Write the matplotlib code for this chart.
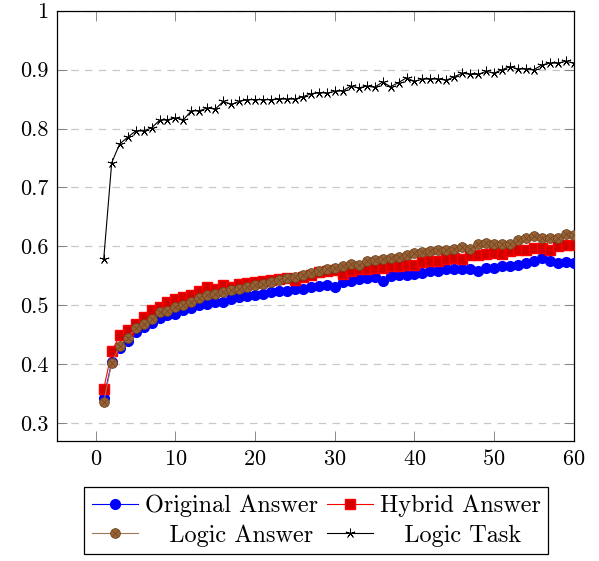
import matplotlib
matplotlib.use("Agg")
import matplotlib.pyplot as plt
from matplotlib.lines import Line2D

plt.rcParams["font.family"] = ["cmr10", "DejaVu Serif"]
plt.rcParams["axes.formatter.use_mathtext"] = True
plt.rcParams["mathtext.fontset"] = "cm"

steps = list(range(1, 61))

original_answer = [
    0.343, 0.404, 0.428, 0.440, 0.455, 0.463, 0.470, 0.478, 0.483, 0.486,
    0.492, 0.495, 0.500, 0.503, 0.505, 0.506, 0.510, 0.514, 0.516, 0.518,
    0.520, 0.522, 0.524, 0.525, 0.527, 0.528, 0.531, 0.533, 0.535, 0.531,
    0.539, 0.542, 0.544, 0.546, 0.548, 0.542, 0.550, 0.552, 0.552, 0.554,
    0.555, 0.558, 0.559, 0.561, 0.561, 0.561, 0.561, 0.559, 0.563, 0.564,
    0.566, 0.566, 0.569, 0.572, 0.576, 0.580, 0.576, 0.572, 0.573, 0.572,
]
hybrid_answer = [
    0.358, 0.422, 0.449, 0.459, 0.469, 0.480, 0.492, 0.498, 0.505, 0.510,
    0.515, 0.518, 0.524, 0.531, 0.528, 0.534, 0.532, 0.536, 0.538, 0.540,
    0.541, 0.543, 0.545, 0.546, 0.543, 0.548, 0.551, 0.556, 0.558, 0.560,
    0.554, 0.559, 0.561, 0.561, 0.563, 0.563, 0.566, 0.566, 0.569, 0.569,
    0.574, 0.576, 0.576, 0.578, 0.580, 0.579, 0.586, 0.586, 0.588, 0.589,
    0.588, 0.592, 0.594, 0.594, 0.597, 0.597, 0.594, 0.601, 0.603, 0.603,
]
logic_answer = [
    0.336, 0.403, 0.431, 0.445, 0.461, 0.469, 0.477, 0.488, 0.490, 0.497,
    0.501, 0.506, 0.513, 0.518, 0.520, 0.523, 0.526, 0.528, 0.532, 0.534,
    0.537, 0.540, 0.543, 0.546, 0.548, 0.552, 0.555, 0.558, 0.561, 0.563,
    0.566, 0.571, 0.569, 0.575, 0.577, 0.579, 0.580, 0.582, 0.586, 0.589,
    0.590, 0.593, 0.594, 0.594, 0.596, 0.599, 0.596, 0.604, 0.606, 0.604,
    0.604, 0.604, 0.611, 0.615, 0.617, 0.615, 0.615, 0.615, 0.621, 0.620,
]
logic_task = [
    0.579, 0.742, 0.774, 0.785, 0.796, 0.796, 0.801, 0.814, 0.815, 0.818,
    0.815, 0.830, 0.830, 0.835, 0.833, 0.846, 0.841, 0.846, 0.849, 0.849,
    0.849, 0.849, 0.850, 0.850, 0.850, 0.854, 0.859, 0.861, 0.860, 0.863,
    0.864, 0.872, 0.869, 0.872, 0.870, 0.879, 0.871, 0.878, 0.886, 0.880,
    0.884, 0.884, 0.884, 0.882, 0.888, 0.894, 0.892, 0.892, 0.897, 0.894,
    0.900, 0.905, 0.901, 0.901, 0.900, 0.908, 0.911, 0.911, 0.914, 0.911,
]

BROWN_LINE = "#a07a55"
BROWN_FILL = "#9b6233"
BROWN_EDGE = "#6b4423"

fig = plt.figure(figsize=(5.99, 5.61), dpi=100)
ax = fig.add_axes([0.0947, 0.214, 0.8633, 0.767])

ax.plot(steps, original_answer, color="blue", lw=0.8, marker="o", ms=7,
        mfc="blue", mec="blue", zorder=3)
ax.plot(steps, hybrid_answer, color="red", lw=0.8, marker="s", ms=6.5,
        mfc="#d40000", mec="red", zorder=3)
ax.plot(steps, logic_answer, color=BROWN_LINE, lw=0.8, marker="o", ms=7,
        mfc=BROWN_FILL, mec=BROWN_EDGE, mew=0.6, zorder=3)
ax.plot(steps, logic_answer, ls="none", marker="x", ms=4.6,
        mec=BROWN_EDGE, mew=0.5, zorder=3)
ax.plot(steps, logic_task, color="black", lw=0.8, marker=(5, 2, 0), ms=7,
        mec="black", mew=0.6, zorder=4)

ax.set_xlim(-4.9, 60)
ax.set_ylim(0.27, 1.0)
ax.set_xticks(range(0, 61, 10))
ax.set_yticks([0.3, 0.4, 0.5, 0.6, 0.7, 0.8, 0.9, 1.0])
ax.set_yticklabels(["0.3", "0.4", "0.5", "0.6", "0.7", "0.8", "0.9", "1"])
ax.tick_params(direction="in", length=7, width=0.6, color="#777777",
               top=True, right=True, labelsize=16, pad=6)
ax.grid(axis="y", ls=(0, (6, 5)), color="#c8c8c8", lw=0.9, zorder=0)
for sp in ax.spines.values():
    sp.set_linewidth(0.9)

h_orig = Line2D([], [], color="blue", lw=0.8, marker="o", ms=7, mfc="blue", mec="blue")
h_hyb = Line2D([], [], color="red", lw=0.8, marker="s", ms=6.5, mfc="#d40000", mec="red")
h_log = Line2D([], [], color=BROWN_LINE, lw=0.8, marker="o", ms=7,
               mfc=BROWN_FILL, mec=BROWN_EDGE, mew=0.6)
h_logx = Line2D([], [], ls="none", marker="x", ms=4.6, mec=BROWN_EDGE, mew=0.5)
h_task = Line2D([], [], color="black", lw=0.8, marker=(5, 2, 0), ms=7, mew=0.6)

leg = fig.legend([h_orig, (h_log, h_logx), h_hyb, h_task],
                 ["Original Answer", "   Logic Answer", "Hybrid Answer", "   Logic Task"],
                 loc="upper center", bbox_to_anchor=(0.528, 0.153), ncol=2,
                 fontsize=17.5, frameon=True, fancybox=False, framealpha=1,
                 edgecolor="black", handlelength=1.9, handletextpad=0.3,
                 columnspacing=0.35, labelspacing=0.3, borderpad=0.3)
leg.get_frame().set_linewidth(0.9)

fig.savefig("out.png", dpi=100)
